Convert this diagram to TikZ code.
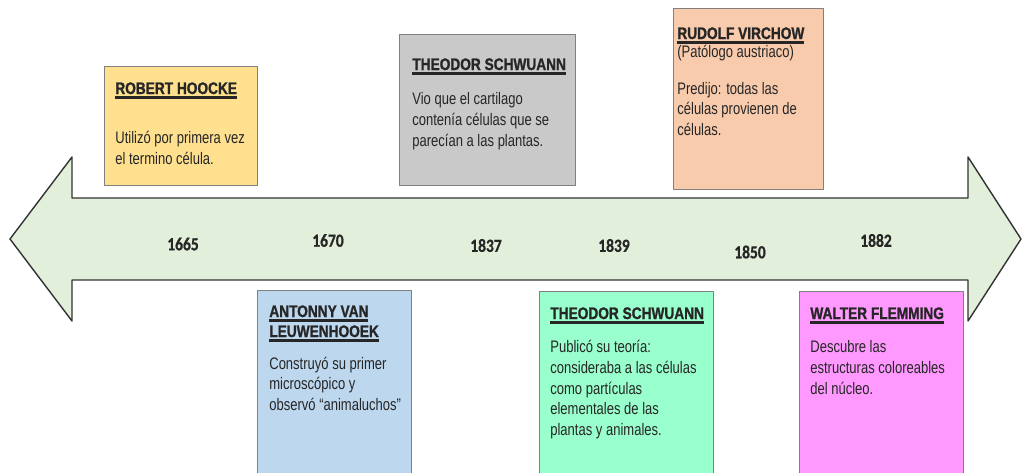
\documentclass[tikz,border=0pt]{standalone}
\usepackage{fontspec}
\setmainfont{Liberation Sans}[FakeStretch=0.78,BoldFeatures={FakeStretch=0.82,FakeBold=1.2}]
\newfontfamily\aniofont{Carlito}[FakeStretch=0.84,BoldFeatures={FakeBold=0.8}]
\usetikzlibrary{positioning}
\definecolor{verdeflecha}{HTML}{E2EFDA}
\definecolor{amarillo}{HTML}{FFE08E}
\definecolor{gris}{HTML}{C9C9C9}
\definecolor{salmon}{HTML}{F8CBAD}
\definecolor{celeste}{HTML}{BDD7EE}
\definecolor{menta}{HTML}{99FFCC}
\definecolor{rosa}{HTML}{FF99FF}
\newsavebox{\subbox}
\newcommand{\subrayado}[1]{\sbox{\subbox}{\textbf{#1}}\rlap{\rule[-2.6pt]{\wd\subbox}{1.3pt}}\usebox{\subbox}}

\begin{document}
\begin{tikzpicture}[line cap=round, line join=round, font=\fontsize{9.5pt}{11.9pt}\selectfont, >=stealth]
	\tikzset{caja/.style={draw=black!50, line width=0.6pt, anchor=north west, inner sep=0pt},
		texto/.style={inner sep=0pt, align=left, text=black!85},
		anio/.style={font=\aniofont\bfseries\fontsize{10.5pt}{12pt}\selectfont, text=black!85}}
	\useasboundingbox (0,0) rectangle (20.44,9.44);
	\clip (0,0) rectangle (20.44,9.44);
	\draw[fill=verdeflecha, draw=black!80, line width=0.8pt] (0.2,4.66)--(1.44,6.3)--(1.44,5.48)--(19.36,5.48)--(19.36,6.3)--(20.42,4.66)--(19.36,3.02)--(19.36,3.84)--(1.44,3.84)--(1.44,3.02)--cycle;
	\node[anio] (a1665) at (3.66,4.56) {1665};
	\node[anio] (a1670) at (6.56,4.63) {1670};
	\node[anio] (a1837) at (9.72,4.53) {1837};
	\node[anio] (a1839) at (12.28,4.53) {1839};
	\node[anio] (a1850) at (15.0,4.40) {1850};
	\node[anio] (a1882) at (17.52,4.63) {1882};
	% arriba
	\node[caja, fill=amarillo, minimum width=3.06cm, minimum height=2.38cm] (hoocke) at (2.08,8.12) {};
	\node[caja, fill=gris, minimum width=3.52cm, minimum height=3.02cm] (schwann) at (7.98,8.76) {};
	\node[caja, fill=salmon, minimum width=3.0cm, minimum height=3.62cm] (virchow) at (13.46,9.28) {};
	\node[texto, below right=0.32cm and 0.22cm of hoocke.north west] (thoocke) {\subrayado{ROBERT HOOCKE}\\[16.5pt] Utilizó por primera vez\\ el termino célula.};
	\node[texto, below right=0.48cm and 0.26cm of schwann.north west] (tschwann) {\subrayado{THEODOR SCHWUANN}\\[8pt] Vio que el cartilago\\ contenía células que se\\ parecían a las plantas.};
	\node[texto, below right=0.38cm and 0.08cm of virchow.north west] (tvirchow) {\subrayado{RUDOLF VIRCHOW}\\[-1.5pt] (Patólogo austriaco)\\[9pt] Predijo: todas las\\ células provienen de\\ células.};
	% abajo
	\node[caja, fill=celeste, minimum width=3.08cm, minimum height=4cm] (leeuw) at (5.14,3.64) {};
	\node[caja, fill=menta, minimum width=3.48cm, minimum height=4cm] (teoria) at (10.78,3.62) {};
	\node[caja, fill=rosa, minimum width=3.28cm, minimum height=4cm] (flemming) at (15.98,3.62) {};
	\node[texto, below right=0.3cm and 0.24cm of leeuw.north west] (tleeuw) {\subrayado{ANTONNY VAN}\\[-0.5pt] \subrayado{LEUWENHOOEK}\\[6.3pt] Construyó su primer\\ microscópico y\\ observó “animaluchos”};
	\node[texto, below right=0.32cm and 0.22cm of teoria.north west] (tteoria) {\subrayado{THEODOR SCHWUANN}\\[7pt] Publicó su teoría:\\ consideraba a las células\\ como partículas\\ elementales de las\\ plantas y animales.};
	\node[texto, below right=0.32cm and 0.22cm of flemming.north west] (tflemming) {\subrayado{WALTER FLEMMING}\\[7pt] Descubre las\\ estructuras coloreables\\ del núcleo.};
\end{tikzpicture}
\end{document}
